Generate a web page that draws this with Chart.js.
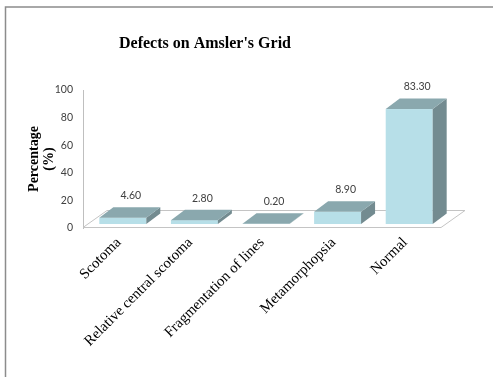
<!DOCTYPE html>
<html>
<head>
<meta charset="utf-8">
<script src="https://cdn.jsdelivr.net/npm/chart.js@4/dist/chart.umd.min.js"></script>
<style>
  html, body { margin: 0; padding: 0; background: #fff; }
  #wrap { position: relative; width: 493px; height: 377px; overflow: hidden; }
  canvas { display: block; }
</style>
</head>
<body>
<div id="wrap"><canvas id="c" width="493" height="377"></canvas></div>
<script>
const chartTitle = "Defects on Amsler's Grid";
const yTitleLines = ['Percentage', '(%)'];
const categories = ['Scotoma', 'Relative central scotoma', 'Fragmentation of lines', 'Metamorphopsia', 'Normal'];
const percentages = [4.6, 2.8, 0.2, 8.9, 83.3];
const yTickMin = 0;
const yTickMax = 100;
const yTickStep = 20;

const FRONT = '#b7dfe8';
const TOP = '#8aa8ae';
const SIDE = '#738b90';

const depth = { dx: 14, dy: -10.5 };       // bar depth
const shift = { dx: 4, dy: -4 };           // bar front set back from floor edge
const floorDepth = { dx: 24, dy: -17 };

const threeD = {
  id: 'threeD',
  beforeDatasetsDraw(chart) {
    const ctx = chart.ctx;
    const a = chart.chartArea;
    const y0 = chart.scales.y.getPixelForValue(0) - 0.5;
    ctx.save();
    ctx.beginPath();
    ctx.moveTo(a.left, y0);
    ctx.lineTo(a.right, y0);
    ctx.lineTo(a.right + floorDepth.dx, y0 + floorDepth.dy);
    ctx.lineTo(a.left + floorDepth.dx, y0 + floorDepth.dy);
    ctx.closePath();
    ctx.fillStyle = '#ffffff';
    ctx.fill();
    ctx.strokeStyle = '#c4c4c4';
    ctx.lineWidth = 1;
    ctx.stroke();
    ctx.restore();
  },
  afterDatasetsDraw(chart) {
    const ctx = chart.ctx;
    const meta = chart.getDatasetMeta(0);
    ctx.save();
    meta.data.forEach((bar, i) => {
      const p = bar.getProps(['x', 'y', 'base', 'width'], true);
      const x0 = p.x - p.width / 2 + shift.dx;
      const x1 = p.x + p.width / 2 + shift.dx;
      const yt = p.y + shift.dy;
      const yb = p.base + shift.dy;
      ctx.fillStyle = FRONT;
      ctx.fillRect(x0, yt, x1 - x0, yb - yt);
      ctx.beginPath();
      ctx.moveTo(x1, yt);
      ctx.lineTo(x1 + depth.dx, yt + depth.dy);
      ctx.lineTo(x1 + depth.dx, yb + depth.dy);
      ctx.lineTo(x1, yb);
      ctx.closePath();
      ctx.fillStyle = SIDE;
      ctx.fill();
      ctx.beginPath();
      ctx.moveTo(x0, yt);
      ctx.lineTo(x0 + depth.dx, yt + depth.dy);
      ctx.lineTo(x1 + depth.dx, yt + depth.dy);
      ctx.lineTo(x1, yt);
      ctx.closePath();
      ctx.fillStyle = TOP;
      ctx.fill();
      ctx.fillStyle = '#404040';
      ctx.font = '10.5px Lato, "Liberation Sans", sans-serif';
      ctx.textAlign = 'center';
      ctx.textBaseline = 'middle';
      ctx.fillText(percentages[i].toFixed(2), (x0 + x1) / 2 + 8, yt - 22);
    });
    ctx.restore();
  },
  afterDraw(chart) {
    const ctx = chart.ctx;
    const a = chart.chartArea;
    ctx.save();
    ctx.strokeStyle = '#8c8c8c';
    ctx.lineWidth = 1.5;
    ctx.beginPath();
    ctx.moveTo(5.5, chart.height);
    ctx.lineTo(5.5, 7);
    ctx.lineTo(chart.width, 7);
    ctx.stroke();
    ctx.fillStyle = '#000';
    ctx.font = 'bold 16px "Liberation Serif", "Times New Roman", serif';
    ctx.textAlign = 'center';
    ctx.textBaseline = 'middle';
    ctx.fillText(chartTitle, 205, 44);
    ctx.font = 'bold 14px "Liberation Serif", "Times New Roman", serif';
    const cy = (a.top + a.bottom) / 2;
    ctx.translate(0, cy);
    ctx.rotate(-Math.PI / 2);
    ctx.fillText(yTitleLines[0], 0, 34);
    ctx.fillText(yTitleLines[1], 0, 49);
    ctx.restore();
  }
};

new Chart(document.getElementById('c'), {
  type: 'bar',
  data: {
    labels: categories,
    datasets: [{
      data: percentages,
      backgroundColor: 'rgba(0,0,0,0)',
      borderWidth: 0,
      barPercentage: 0.656,
      categoryPercentage: 1
    }]
  },
  options: {
    responsive: false,
    animation: false,
    devicePixelRatio: 1,
    layout: { padding: { top: 90, right: 52, bottom: 0, left: 0 } },
    plugins: { legend: { display: false }, tooltip: { enabled: false }, title: { display: false } },
    scales: {
      y: {
        min: yTickMin, max: yTickMax,
        ticks: { stepSize: yTickStep, padding: 10, color: '#404040', font: { family: 'Lato, "Liberation Sans", sans-serif', size: 10.5 } },
        grid: { display: false, drawTicks: false },
        border: { display: true, color: '#bfbfbf', width: 1 },
        afterFit: s => { s.width = 83; }
      },
      x: {
        ticks: { autoSkip: false, maxRotation: 45, minRotation: 45, padding: 6, color: '#000', font: { family: '"Liberation Serif", "Times New Roman", serif', size: 14.8 } },
        grid: { display: false, drawTicks: false },
        border: { display: false },
        afterFit: s => { s.height = 149; }
      }
    }
  },
  plugins: [threeD]
});
</script>
</body>
</html>
